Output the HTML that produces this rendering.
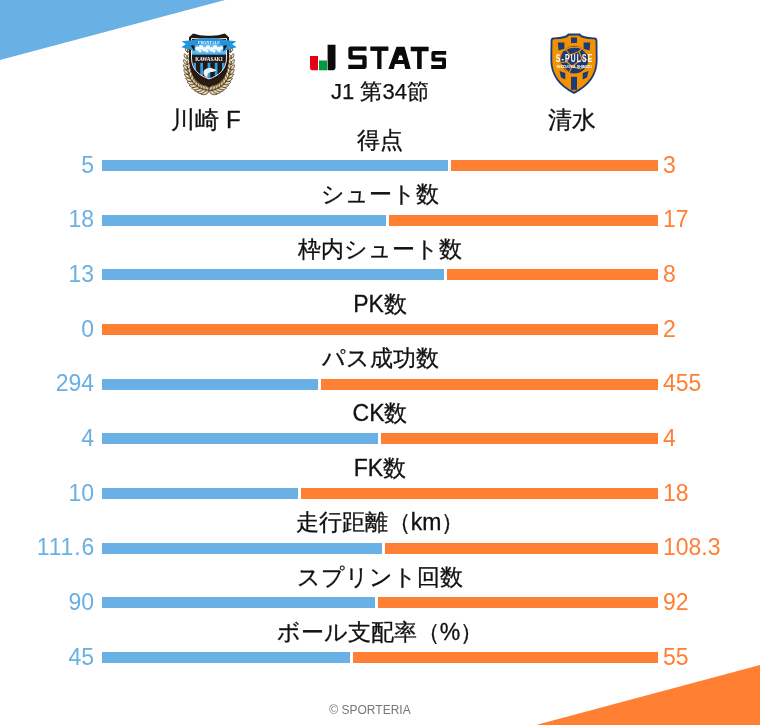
<!DOCTYPE html>
<html lang="ja">
<head>
<meta charset="utf-8">
<style>
html,body{margin:0;padding:0;}
body{width:760px;height:725px;position:relative;overflow:hidden;background:#fff;font-family:"Liberation Sans",sans-serif;color:#1a1a1a;}
.tri{position:absolute;left:0;top:0;}
.lab{will-change:transform;position:absolute;left:180px;width:400px;text-align:center;font-size:23px;line-height:30px;height:30px;white-space:nowrap;color:#111;-webkit-text-stroke:0.3px #111;}
.bb{position:absolute;height:11px;background:#69b0e4;}
.ob{position:absolute;height:11px;background:#ff7f33;}
.ln{will-change:transform;position:absolute;left:0;width:94px;text-align:right;font-size:23px;line-height:30px;color:#69b0e4;}
.rn{will-change:transform;position:absolute;left:663px;font-size:23px;line-height:30px;color:#ff7f33;}
.team{will-change:transform;position:absolute;font-size:24px;line-height:30px;white-space:nowrap;text-align:center;color:#111;-webkit-text-stroke:0.3px #111;}
.round{will-change:transform;position:absolute;left:280px;width:200px;text-align:center;font-size:22px;line-height:30px;color:#111;-webkit-text-stroke:0.25px #111;}
.foot{will-change:transform;position:absolute;left:270px;width:200px;text-align:center;font-size:12px;line-height:16px;color:#777;}
</style>
</head>
<body>
<svg class="tri" width="760" height="725" viewBox="0 0 760 725">
<polygon points="0,0 225,0 0,60" fill="#69b0e4"/>
<polygon points="760,665 760,725 536,725" fill="#ff7f33"/>
</svg>
<svg style="position:absolute;left:0;top:0;will-change:transform" width="760" height="110" viewBox="0 0 760 110">
<path d="M310 56 H318 V70.3 H312.3 Q310 70.3 310 68 Z" fill="#e60012"/>
<rect x="319" y="60.5" width="8" height="9.8" fill="#009944"/>
<path d="M327.6 44.7 H335.5 V67.8 Q335.5 70.2 333.1 70.2 H327.6 Z" fill="#0a0a0a"/>
<g fill="none" stroke="#0a0a0a" stroke-linejoin="round">
<polyline points="366.5,48.7 350.5,48.7 350.5,57.3 364.5,57.3 364.5,66.85 348.3,66.85" stroke-width="4.3"/>
<polyline points="370.3,48.7 388.4,48.7" stroke-width="4.4"/>
<polyline points="379.35,48.7 379.35,69" stroke-width="4.3" stroke-linejoin="miter"/>
<polyline points="410.7,49 428.6,49" stroke-width="4.6"/>
<polyline points="419.4,49 419.4,69" stroke-width="4.6" stroke-linejoin="miter"/>
<polyline points="446.2,52.9 433.35,52.9 433.35,59.55 444.05,59.55 444.05,67.05 431.2,67.05" stroke-width="3.9"/>
</g>
<path fill-rule="evenodd" fill="#0a0a0a" d="M396.5 46.7 H404.6 L410.7 69 H405.3 L404.2 64 H395 L393.8 69 H388.4 Z M399.3 55.4 H401.8 L403.2 60.1 H397.9 Z"/>
<path d="M189 53 C187.5 77 199 86.5 209 87.8 C219 86.5 230.5 77 229 53 Z" fill="#2a1c10"/><defs><linearGradient id="lg" x1="0" y1="0" x2="1" y2="0"><stop offset="0" stop-color="#b8996a"/><stop offset="1" stop-color="#e6d8ae"/></linearGradient></defs><path d="M209.50 90.50 Q207.86 84.46 201.65 85.32 Q203.30 91.36 209.50 90.50Z" fill="#d3ba88" stroke="#2e2010" stroke-width="0.65"/><path d="M207.15 88.95 Q205.75 85.77 202.28 85.74 Q203.68 88.91 207.15 88.95Z" fill="#f3ead0"/><path d="M209.50 90.50 Q203.53 88.62 200.90 94.30 Q206.88 96.18 209.50 90.50Z" fill="#d3ba88" stroke="#2e2010" stroke-width="0.65"/><path d="M206.92 91.64 Q203.50 91.10 201.59 94.00 Q205.02 94.54 206.92 91.64Z" fill="#f3ead0"/><path d="M206.27 90.07 Q205.36 84.09 199.31 84.22 Q200.22 90.21 206.27 90.07Z" fill="#d3ba88" stroke="#2e2010" stroke-width="0.65"/><path d="M204.18 88.31 Q203.20 85.11 199.87 84.69 Q200.86 87.89 204.18 88.31Z" fill="#f3ead0"/><path d="M206.27 90.07 Q200.75 87.60 197.60 92.76 Q203.12 95.23 206.27 90.07Z" fill="#d3ba88" stroke="#2e2010" stroke-width="0.65"/><path d="M203.67 90.88 Q200.44 89.98 198.29 92.55 Q201.52 93.45 203.67 90.88Z" fill="#f3ead0"/><path d="M203.11 89.25 Q202.99 83.41 197.18 82.80 Q197.31 88.63 203.11 89.25Z" fill="#d3ba88" stroke="#2e2010" stroke-width="0.65"/><path d="M201.33 87.31 Q200.78 84.12 197.65 83.31 Q198.20 86.50 201.33 87.31Z" fill="#f3ead0"/><path d="M203.11 89.25 Q198.13 86.20 194.48 90.76 Q199.46 93.80 203.11 89.25Z" fill="#d3ba88" stroke="#2e2010" stroke-width="0.65"/><path d="M200.52 89.70 Q197.54 88.44 195.17 90.63 Q198.15 91.89 200.52 89.70Z" fill="#f3ead0"/><path d="M200.09 88.01 Q200.76 82.42 195.30 81.04 Q194.63 86.63 200.09 88.01Z" fill="#d3ba88" stroke="#2e2010" stroke-width="0.65"/><path d="M198.65 85.92 Q198.56 82.80 195.69 81.60 Q195.78 84.71 198.65 85.92Z" fill="#f3ead0"/><path d="M200.09 88.01 Q195.75 84.42 191.64 88.27 Q195.98 91.85 200.09 88.01Z" fill="#d3ba88" stroke="#2e2010" stroke-width="0.65"/><path d="M197.55 88.09 Q194.88 86.48 192.32 88.25 Q194.99 89.85 197.55 88.09Z" fill="#f3ead0"/><path d="M197.24 86.31 Q198.71 81.10 193.73 78.98 Q192.26 84.19 197.24 86.31Z" fill="#d3ba88" stroke="#2e2010" stroke-width="0.65"/><path d="M196.19 84.11 Q196.56 81.14 194.01 79.57 Q193.63 82.54 196.19 84.11Z" fill="#f3ead0"/><path d="M197.24 86.31 Q193.65 82.26 189.17 85.31 Q192.76 89.36 197.24 86.31Z" fill="#d3ba88" stroke="#2e2010" stroke-width="0.65"/><path d="M194.82 86.01 Q192.52 84.09 189.82 85.39 Q192.12 87.32 194.82 86.01Z" fill="#f3ead0"/><path d="M194.63 84.14 Q196.84 79.42 192.44 76.63 Q190.24 81.35 194.63 84.14Z" fill="#d3ba88" stroke="#2e2010" stroke-width="0.65"/><path d="M193.98 81.88 Q194.80 79.12 192.62 77.23 Q191.80 80.00 193.98 81.88Z" fill="#f3ead0"/><path d="M194.63 84.14 Q191.86 79.73 187.14 81.92 Q189.91 86.33 194.63 84.14Z" fill="#d3ba88" stroke="#2e2010" stroke-width="0.65"/><path d="M192.38 83.47 Q190.50 81.29 187.73 82.10 Q189.62 84.28 192.38 83.47Z" fill="#f3ead0"/><path d="M192.31 81.44 Q195.15 77.32 191.43 73.99 Q188.59 78.10 192.31 81.44Z" fill="#d3ba88" stroke="#2e2010" stroke-width="0.65"/><path d="M192.05 79.20 Q193.26 76.72 191.50 74.59 Q190.28 77.07 192.05 79.20Z" fill="#f3ead0"/><path d="M192.31 81.44 Q190.38 76.83 185.57 78.16 Q187.50 82.77 192.31 81.44Z" fill="#d3ba88" stroke="#2e2010" stroke-width="0.65"/><path d="M190.29 80.45 Q188.85 78.09 186.11 78.42 Q187.54 80.79 190.29 80.45Z" fill="#f3ead0"/><path d="M190.34 78.19 Q193.65 74.73 190.64 71.01 Q187.33 74.47 190.34 78.19Z" fill="#d3ba88" stroke="#2e2010" stroke-width="0.65"/><path d="M190.43 76.03 Q191.96 73.87 190.61 71.58 Q189.09 73.75 190.43 76.03Z" fill="#f3ead0"/><path d="M190.34 78.19 Q189.22 73.54 184.46 74.06 Q185.58 78.71 190.34 78.19Z" fill="#d3ba88" stroke="#2e2010" stroke-width="0.65"/><path d="M188.57 76.95 Q187.58 74.49 184.93 74.39 Q185.93 76.84 188.57 76.95Z" fill="#f3ead0"/><path d="M188.76 74.35 Q192.38 71.55 190.06 67.61 Q186.44 70.41 188.76 74.35Z" fill="#d3ba88" stroke="#2e2010" stroke-width="0.65"/><path d="M189.15 72.33 Q190.90 70.50 189.96 68.15 Q188.21 69.98 189.15 72.33Z" fill="#f3ead0"/><path d="M188.76 74.35 Q188.36 69.80 183.79 69.61 Q184.19 74.17 188.76 74.35Z" fill="#d3ba88" stroke="#2e2010" stroke-width="0.65"/><path d="M187.27 72.93 Q186.68 70.47 184.19 69.99 Q184.78 72.46 187.27 72.93Z" fill="#f3ead0"/><path d="M187.63 69.90 Q191.41 67.71 189.72 63.69 Q185.95 65.88 187.63 69.90Z" fill="#d3ba88" stroke="#2e2010" stroke-width="0.65"/><path d="M188.26 68.04 Q190.15 66.53 189.56 64.19 Q187.67 65.69 188.26 68.04Z" fill="#f3ead0"/><path d="M187.63 69.90 Q187.83 65.54 183.54 64.79 Q183.34 69.14 187.63 69.90Z" fill="#d3ba88" stroke="#2e2010" stroke-width="0.65"/><path d="M186.40 68.36 Q186.16 65.96 183.87 65.20 Q184.11 67.60 186.40 68.36Z" fill="#f3ead0"/><path d="M187.01 64.79 Q190.82 63.15 189.68 59.16 Q185.87 60.80 187.01 64.79Z" fill="#d3ba88" stroke="#2e2010" stroke-width="0.65"/><path d="M187.81 63.10 Q189.77 61.89 189.47 59.61 Q187.51 60.82 187.81 63.10Z" fill="#f3ead0"/><path d="M187.01 64.79 Q187.69 60.70 183.71 59.51 Q183.03 63.60 187.01 64.79Z" fill="#d3ba88" stroke="#2e2010" stroke-width="0.65"/><path d="M186.02 63.21 Q186.06 60.91 183.98 59.93 Q183.94 62.23 186.02 63.21Z" fill="#f3ead0"/><path d="M186.95 59.01 Q190.71 57.82 190.01 53.94 Q186.25 55.13 186.95 59.01Z" fill="#d3ba88" stroke="#2e2010" stroke-width="0.65"/><path d="M187.87 57.49 Q189.83 56.53 189.77 54.35 Q187.80 55.30 187.87 57.49Z" fill="#f3ead0"/><path d="M186.95 59.01 Q187.98 55.20 184.34 53.69 Q183.31 57.50 186.95 59.01Z" fill="#d3ba88" stroke="#2e2010" stroke-width="0.65"/><path d="M186.17 57.41 Q186.42 55.24 184.55 54.12 Q184.30 56.29 186.17 57.41Z" fill="#f3ead0"/><path d="M187.50 52.50 Q191.13 51.66 190.76 47.95 Q187.13 48.79 187.50 52.50Z" fill="#d3ba88" stroke="#2e2010" stroke-width="0.65"/><path d="M188.48 51.13 Q190.40 50.38 190.50 48.31 Q188.58 49.07 188.48 51.13Z" fill="#f3ead0"/><path d="M187.50 52.50 Q188.76 48.99 185.43 47.30 Q184.18 50.81 187.50 52.50Z" fill="#d3ba88" stroke="#2e2010" stroke-width="0.65"/><path d="M186.88 50.94 Q187.28 48.91 185.60 47.71 Q185.20 49.74 186.88 50.94Z" fill="#f3ead0"/><path d="M208.50 90.50 Q211.12 96.18 217.10 94.30 Q214.47 88.62 208.50 90.50Z" fill="#d3ba88" stroke="#2e2010" stroke-width="0.65"/><path d="M211.08 91.64 Q212.98 94.54 216.41 94.00 Q214.50 91.10 211.08 91.64Z" fill="#f3ead0"/><path d="M208.50 90.50 Q214.70 91.36 216.35 85.32 Q210.14 84.46 208.50 90.50Z" fill="#d3ba88" stroke="#2e2010" stroke-width="0.65"/><path d="M210.85 88.95 Q214.32 88.91 215.72 85.74 Q212.25 85.77 210.85 88.95Z" fill="#f3ead0"/><path d="M211.73 90.07 Q214.88 95.23 220.40 92.76 Q217.25 87.60 211.73 90.07Z" fill="#d3ba88" stroke="#2e2010" stroke-width="0.65"/><path d="M214.33 90.88 Q216.48 93.45 219.71 92.55 Q217.56 89.98 214.33 90.88Z" fill="#f3ead0"/><path d="M211.73 90.07 Q217.78 90.21 218.69 84.22 Q212.64 84.09 211.73 90.07Z" fill="#d3ba88" stroke="#2e2010" stroke-width="0.65"/><path d="M213.82 88.31 Q217.14 87.89 218.13 84.69 Q214.80 85.11 213.82 88.31Z" fill="#f3ead0"/><path d="M214.89 89.25 Q218.54 93.80 223.52 90.76 Q219.87 86.20 214.89 89.25Z" fill="#d3ba88" stroke="#2e2010" stroke-width="0.65"/><path d="M217.48 89.70 Q219.85 91.89 222.83 90.63 Q220.46 88.44 217.48 89.70Z" fill="#f3ead0"/><path d="M214.89 89.25 Q220.69 88.63 220.82 82.80 Q215.01 83.41 214.89 89.25Z" fill="#d3ba88" stroke="#2e2010" stroke-width="0.65"/><path d="M216.67 87.31 Q219.80 86.50 220.35 83.31 Q217.22 84.12 216.67 87.31Z" fill="#f3ead0"/><path d="M217.91 88.01 Q222.02 91.85 226.36 88.27 Q222.25 84.42 217.91 88.01Z" fill="#d3ba88" stroke="#2e2010" stroke-width="0.65"/><path d="M220.45 88.09 Q223.01 89.85 225.68 88.25 Q223.12 86.48 220.45 88.09Z" fill="#f3ead0"/><path d="M217.91 88.01 Q223.37 86.63 222.70 81.04 Q217.24 82.42 217.91 88.01Z" fill="#d3ba88" stroke="#2e2010" stroke-width="0.65"/><path d="M219.35 85.92 Q222.22 84.71 222.31 81.60 Q219.44 82.80 219.35 85.92Z" fill="#f3ead0"/><path d="M220.76 86.31 Q225.24 89.36 228.83 85.31 Q224.35 82.26 220.76 86.31Z" fill="#d3ba88" stroke="#2e2010" stroke-width="0.65"/><path d="M223.18 86.01 Q225.88 87.32 228.18 85.39 Q225.48 84.09 223.18 86.01Z" fill="#f3ead0"/><path d="M220.76 86.31 Q225.74 84.19 224.27 78.98 Q219.29 81.10 220.76 86.31Z" fill="#d3ba88" stroke="#2e2010" stroke-width="0.65"/><path d="M221.81 84.11 Q224.37 82.54 223.99 79.57 Q221.44 81.14 221.81 84.11Z" fill="#f3ead0"/><path d="M223.37 84.14 Q228.09 86.33 230.86 81.92 Q226.14 79.73 223.37 84.14Z" fill="#d3ba88" stroke="#2e2010" stroke-width="0.65"/><path d="M225.62 83.47 Q228.38 84.28 230.27 82.10 Q227.50 81.29 225.62 83.47Z" fill="#f3ead0"/><path d="M223.37 84.14 Q227.76 81.35 225.56 76.63 Q221.16 79.42 223.37 84.14Z" fill="#d3ba88" stroke="#2e2010" stroke-width="0.65"/><path d="M224.02 81.88 Q226.20 80.00 225.38 77.23 Q223.20 79.12 224.02 81.88Z" fill="#f3ead0"/><path d="M225.69 81.44 Q230.50 82.77 232.43 78.16 Q227.62 76.83 225.69 81.44Z" fill="#d3ba88" stroke="#2e2010" stroke-width="0.65"/><path d="M227.71 80.45 Q230.46 80.79 231.89 78.42 Q229.15 78.09 227.71 80.45Z" fill="#f3ead0"/><path d="M225.69 81.44 Q229.41 78.10 226.57 73.99 Q222.85 77.32 225.69 81.44Z" fill="#d3ba88" stroke="#2e2010" stroke-width="0.65"/><path d="M225.95 79.20 Q227.72 77.07 226.50 74.59 Q224.74 76.72 225.95 79.20Z" fill="#f3ead0"/><path d="M227.66 78.19 Q232.42 78.71 233.54 74.06 Q228.78 73.54 227.66 78.19Z" fill="#d3ba88" stroke="#2e2010" stroke-width="0.65"/><path d="M229.43 76.95 Q232.07 76.84 233.07 74.39 Q230.42 74.49 229.43 76.95Z" fill="#f3ead0"/><path d="M227.66 78.19 Q230.67 74.47 227.36 71.01 Q224.35 74.73 227.66 78.19Z" fill="#d3ba88" stroke="#2e2010" stroke-width="0.65"/><path d="M227.57 76.03 Q228.91 73.75 227.39 71.58 Q226.04 73.87 227.57 76.03Z" fill="#f3ead0"/><path d="M229.24 74.35 Q233.81 74.17 234.21 69.61 Q229.64 69.80 229.24 74.35Z" fill="#d3ba88" stroke="#2e2010" stroke-width="0.65"/><path d="M230.73 72.93 Q233.22 72.46 233.81 69.99 Q231.32 70.47 230.73 72.93Z" fill="#f3ead0"/><path d="M229.24 74.35 Q231.56 70.41 227.94 67.61 Q225.62 71.55 229.24 74.35Z" fill="#d3ba88" stroke="#2e2010" stroke-width="0.65"/><path d="M228.85 72.33 Q229.79 69.98 228.04 68.15 Q227.10 70.50 228.85 72.33Z" fill="#f3ead0"/><path d="M230.37 69.90 Q234.66 69.14 234.46 64.79 Q230.17 65.54 230.37 69.90Z" fill="#d3ba88" stroke="#2e2010" stroke-width="0.65"/><path d="M231.60 68.36 Q233.89 67.60 234.13 65.20 Q231.84 65.96 231.60 68.36Z" fill="#f3ead0"/><path d="M230.37 69.90 Q232.05 65.88 228.28 63.69 Q226.59 67.71 230.37 69.90Z" fill="#d3ba88" stroke="#2e2010" stroke-width="0.65"/><path d="M229.74 68.04 Q230.33 65.69 228.44 64.19 Q227.85 66.53 229.74 68.04Z" fill="#f3ead0"/><path d="M230.99 64.79 Q234.97 63.60 234.29 59.51 Q230.31 60.70 230.99 64.79Z" fill="#d3ba88" stroke="#2e2010" stroke-width="0.65"/><path d="M231.98 63.21 Q234.06 62.23 234.02 59.93 Q231.94 60.91 231.98 63.21Z" fill="#f3ead0"/><path d="M230.99 64.79 Q232.13 60.80 228.32 59.16 Q227.18 63.15 230.99 64.79Z" fill="#d3ba88" stroke="#2e2010" stroke-width="0.65"/><path d="M230.19 63.10 Q230.49 60.82 228.53 59.61 Q228.23 61.89 230.19 63.10Z" fill="#f3ead0"/><path d="M231.05 59.01 Q234.69 57.50 233.66 53.69 Q230.02 55.20 231.05 59.01Z" fill="#d3ba88" stroke="#2e2010" stroke-width="0.65"/><path d="M231.83 57.41 Q233.70 56.29 233.45 54.12 Q231.58 55.24 231.83 57.41Z" fill="#f3ead0"/><path d="M231.05 59.01 Q231.75 55.13 227.99 53.94 Q227.29 57.82 231.05 59.01Z" fill="#d3ba88" stroke="#2e2010" stroke-width="0.65"/><path d="M230.13 57.49 Q230.20 55.30 228.23 54.35 Q228.17 56.53 230.13 57.49Z" fill="#f3ead0"/><path d="M230.50 52.50 Q233.82 50.81 232.57 47.30 Q229.24 48.99 230.50 52.50Z" fill="#d3ba88" stroke="#2e2010" stroke-width="0.65"/><path d="M231.12 50.94 Q232.80 49.74 232.40 47.71 Q230.72 48.91 231.12 50.94Z" fill="#f3ead0"/><path d="M230.50 52.50 Q230.87 48.79 227.24 47.95 Q226.87 51.66 230.50 52.50Z" fill="#d3ba88" stroke="#2e2010" stroke-width="0.65"/><path d="M229.52 51.13 Q229.42 49.07 227.50 48.31 Q227.60 50.38 229.52 51.13Z" fill="#f3ead0"/>
<path d="M189 37.2 L193.2 33.4 Q201 36.3 209 35.8 Q217 36.3 224.8 33.4 L229 37.2 L229 58 C229 71 220 78 209 81.2 C198 78 189 71 189 58 Z" fill="#231815"/>
<clipPath id="kwc"><path d="M191.5 38.4 Q200 39.4 209 38.6 Q218 39.4 226.5 38.4 L226.5 58 C226.5 69.5 218.5 76 209 78.9 C199.5 76 191.5 69.5 191.5 58 Z"/></clipPath>
<g clip-path="url(#kwc)">
<rect x="185" y="35" width="50" height="50" fill="#231815"/>
<rect x="193.6" y="62.8" width="2.4" height="20" fill="#2b9fe0"/>
<rect x="200.3" y="62.8" width="2.7" height="20" fill="#2b9fe0"/>
<rect x="207.6" y="62.8" width="2.7" height="20" fill="#2b9fe0"/>
<rect x="214.8" y="62.8" width="2.7" height="20" fill="#2b9fe0"/>
<rect x="222" y="62.8" width="2.6" height="20" fill="#2b9fe0"/>
<rect x="185" y="41" width="50" height="13.6" fill="#62bdee"/>
<rect x="185" y="53.8" width="50" height="0.9" fill="#1f8fd6"/>
</g>
<path d="M191.5 38.4 Q200 39.4 209 38.6 Q218 39.4 226.5 38.4 L226.5 58 C226.5 69.5 218.5 76 209 78.9 C199.5 76 191.5 69.5 191.5 58 Z" fill="none" stroke="#fff" stroke-width="0.9"/>
<g fill="#f4f9fd">
<circle cx="197.5" cy="48.6" r="2.2"/><circle cx="201" cy="47.4" r="2.3"/><circle cx="204.5" cy="49.2" r="2.3"/><circle cx="208" cy="47.5" r="2.3"/><circle cx="211.5" cy="49.2" r="2.3"/><circle cx="215" cy="47.4" r="2.3"/><circle cx="218.5" cy="49" r="2.3"/><circle cx="221.3" cy="48" r="1.8"/>
<circle cx="200" cy="50.8" r="1.6"/><circle cx="207" cy="51" r="1.6"/><circle cx="214" cy="51" r="1.6"/><circle cx="219.5" cy="50.8" r="1.4"/>
</g>
<text x="209" y="60.7" text-anchor="middle" font-family="Liberation Serif" font-weight="bold" font-size="6" fill="#fff" textLength="27.5" lengthAdjust="spacingAndGlyphs">KAWASAKI</text>
<path d="M203.6 71.2 C205 68.4 209 67.5 212.5 68.5 C214.6 69.1 216.2 69.9 216.5 71.1 C215 71.1 213.9 71.4 213.1 72.1 C211.2 71.7 209.6 72.1 208.6 73.1 C207.4 74.4 207.3 76.1 207.9 78 C205.4 77.3 203.9 75.6 203.5 73.6 Z" fill="#eef6fb"/><path d="M209.5 69.2 l1.3 -1.9 l0.6 2 z" fill="#eef6fb"/>
<path d="M181.6 41.2 L191.5 40.3 Q209 35.6 226.5 40.3 L236.4 41.2 L232.2 44.3 L236.6 47.2 L223.4 51 L224.6 45.2 Q209 41.6 193.4 45.2 L194.6 51 L181.4 47.2 L185.8 44.3 Z" fill="#2196dc"/><path d="M193.4 45.2 Q209 41.6 224.6 45.2" fill="none" stroke="#1479c0" stroke-width="0.5"/>
<path d="M190.6 45.4 L194.6 45.2 L194.6 51.4 Z M227.4 45.4 L223.4 45.2 L223.4 51.4 Z" fill="#231815"/>
<text x="209" y="43.5" text-anchor="middle" font-family="Liberation Serif" font-weight="bold" font-size="4.4" fill="#fff" textLength="22" lengthAdjust="spacingAndGlyphs">FRONTALE</text>

<path d="M568.2 33.6 L579.8 33.6 Q583 37.6 594.4 37.4 Q597.2 37.4 597.4 40.5 L597.6 60 Q597.6 82 574 94 Q550.4 82 550.4 60 L550.6 40.5 Q550.8 37.4 553.6 37.4 Q565 37.6 568.2 33.6 Z" fill="#1b3a77"/>
<clipPath id="spc"><path d="M569.2 35.5 L578.8 35.5 Q582.2 39.4 593.8 39.3 Q595.5 39.3 595.6 41 L595.8 60 Q595.8 80.8 574 91.8 Q552.2 80.8 552.2 60 L552.4 41 Q552.5 39.3 554.2 39.3 Q565.8 39.4 569.2 35.5 Z"/></clipPath>
<g clip-path="url(#spc)">
<rect x="545" y="30" width="60" height="70" fill="#f39200"/>
<rect x="571" y="37.5" width="6" height="5.5" fill="#1b3a77"/>
<path d="M557.8 42.5 L564.4 42.5 L564.4 48.8 L558.6 50.5 Z M583.6 42.5 L590.2 42.5 L589.6 50.5 L583.6 48.8 Z" fill="#1b3a77"/>
<rect x="571" y="76.8" width="6" height="13" fill="#1b3a77"/>
<path d="M559.5 71 L565.3 73 L565.3 79.5 L561 77.5 Z M582.7 73 L588.5 71 L587 77.5 L582.7 79.5 Z" fill="#1b3a77"/>
<circle cx="574.3" cy="59.8" r="13.8" fill="#1b3a77"/>
<g fill="none" stroke="#f39200" stroke-width="1.1" stroke-linejoin="round">
<path d="M564 50.5 Q572 45 582 48.5 L586.5 53.5"/>
<path d="M565.5 49 L570 55 L579 51.5 L583 47.5"/>
<path d="M570 55 L567 62 L561 62.5"/>
<path d="M579 51.5 L582 59 L588 60"/>
<path d="M567 62 L572 66.5 L582 59"/>
<path d="M572 66.5 L569 73 M572 66.5 L580 69 L585 67"/>
<path d="M561 64 L566 69.5 L569 73"/>
</g>
</g>
<g transform="translate(574 61.7) scale(0.62 1)"><text x="0" y="0" text-anchor="middle" font-family="Liberation Sans" font-weight="bold" font-size="10.8" fill="#fff" textLength="58.7" lengthAdjust="spacing">S-PULSE</text></g>
<text x="574.2" y="67.9" text-anchor="middle" font-family="Liberation Sans" font-weight="bold" font-size="4.1" fill="#fff" textLength="35.5" lengthAdjust="spacingAndGlyphs">SHIZUOKA SHIMIZU</text>
</svg>
<div class="team" style="left:105.5px;width:200px;top:105px">川崎 F</div>
<div class="team" style="left:472px;width:200px;top:105px">清水</div>
<div class="round" style="top:77px">J1 第34節</div>
<div class="lab" style="top:124.50px">得点</div>
<div class="bb" style="top:160.00px;left:101.8px;width:346.00px"></div>
<div class="ob" style="top:160.00px;left:450.80px;width:207.10px"></div>
<div class="ln" style="top:149.50px">5</div>
<div class="rn" style="top:149.50px">3</div>
<div class="lab" style="top:179.17px">シュート数</div>
<div class="bb" style="top:214.67px;left:101.8px;width:284.00px"></div>
<div class="ob" style="top:214.67px;left:388.80px;width:269.10px"></div>
<div class="ln" style="top:204.17px">18</div>
<div class="rn" style="top:204.17px">17</div>
<div class="lab" style="top:233.83px">枠内シュート数</div>
<div class="bb" style="top:269.33px;left:101.8px;width:342.67px"></div>
<div class="ob" style="top:269.33px;left:447.47px;width:210.43px"></div>
<div class="ln" style="top:258.83px">13</div>
<div class="rn" style="top:258.83px">8</div>
<div class="lab" style="top:288.50px">PK数</div>
<div class="ob" style="top:324.00px;left:101.8px;width:556.1px"></div>
<div class="ln" style="top:313.50px">0</div>
<div class="rn" style="top:313.50px">2</div>
<div class="lab" style="top:343.17px">パス成功数</div>
<div class="bb" style="top:378.67px;left:101.8px;width:215.81px"></div>
<div class="ob" style="top:378.67px;left:320.61px;width:337.29px"></div>
<div class="ln" style="top:368.17px">294</div>
<div class="rn" style="top:368.17px">455</div>
<div class="lab" style="top:397.83px">CK数</div>
<div class="bb" style="top:433.33px;left:101.8px;width:276.00px"></div>
<div class="ob" style="top:433.33px;left:380.80px;width:277.10px"></div>
<div class="ln" style="top:422.83px">4</div>
<div class="rn" style="top:422.83px">4</div>
<div class="lab" style="top:452.50px">FK数</div>
<div class="bb" style="top:488.00px;left:101.8px;width:196.00px"></div>
<div class="ob" style="top:488.00px;left:300.80px;width:357.10px"></div>
<div class="ln" style="top:477.50px">10</div>
<div class="rn" style="top:477.50px">18</div>
<div class="lab" style="top:507.17px">走行距離（km）</div>
<div class="bb" style="top:542.67px;left:101.8px;width:280.20px"></div>
<div class="ob" style="top:542.67px;left:385.00px;width:272.90px"></div>
<div class="ln" style="top:532.17px;letter-spacing:0.8px;width:95px">111.6</div>
<div class="rn" style="top:532.17px">108.3</div>
<div class="lab" style="top:561.83px">スプリント回数</div>
<div class="bb" style="top:597.33px;left:101.8px;width:272.92px"></div>
<div class="ob" style="top:597.33px;left:377.72px;width:280.18px"></div>
<div class="ln" style="top:586.83px">90</div>
<div class="rn" style="top:586.83px">92</div>
<div class="lab" style="top:616.50px">ボール支配率（%）</div>
<div class="bb" style="top:652.00px;left:101.8px;width:248.00px"></div>
<div class="ob" style="top:652.00px;left:352.80px;width:305.10px"></div>
<div class="ln" style="top:641.50px">45</div>
<div class="rn" style="top:641.50px">55</div>

<div class="foot" style="top:702px">© SPORTERIA</div>
</body>
</html>
